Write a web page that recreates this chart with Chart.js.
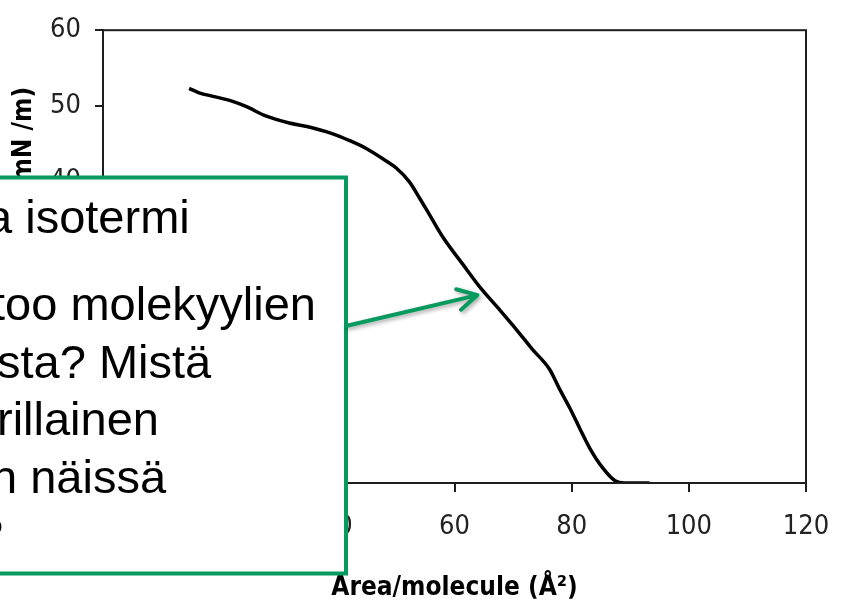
<!DOCTYPE html>
<html>
<head>
<meta charset="utf-8">
<script src="https://cdn.jsdelivr.net/npm/chart.js@4/dist/chart.umd.min.js"></script>
<style>
  html, body { margin: 0; padding: 0; background: #fff; }
  #wrap { width: 851px; height: 604px; }
</style>
</head>
<body>
<div id="wrap"><canvas id="c" width="851" height="604"></canvas></div>
<script>
// Surface pressure – area isotherm
const moleculeArea = [14.7, 16.4, 19, 22, 24.4, 27.9, 31.8, 35, 39.1, 42, 45, 47.7, 50.1, 52.3, 54, 55.7, 58, 61.4, 64.3, 67.2, 70.6, 73.3, 76.2, 77.9, 79.7, 81.4, 83.1, 85.3, 87.4, 89, 93.3];
const surfacePressure = [52.3, 51.7, 51.2, 50.6, 49.9, 48.6, 47.7, 47.2, 46.3, 45.4, 44.3, 43.0, 41.7, 39.9, 37.8, 35.6, 32.6, 29.0, 26.0, 23.4, 20.3, 17.7, 15.1, 12.5, 9.9, 7.2, 4.6, 2.0, 0.3, 0, 0];

const xTitle = 'Area/molecule (Å²)';
const yTitle = 'Surface pressure (mN /m)';

// Callout text (the box runs off the left edge of the slide)
const calloutLines = ['a isotermi', 'too molekyylien', 'sta? Mistä', 'rillainen', 'n näissä', '?'];
// Point on the isotherm the arrow refers to
const arrowTarget = { x: 63.9, y: 24.9 };

const GREEN = '#079a5f';
const AXIS = '#1e1e1e';
const NARROW = "'Liberation Sans Narrow', 'DejaVu Sans Condensed', 'Arial Narrow', sans-serif";

const points = moleculeArea.map((a, i) => ({ x: a, y: surfacePressure[i] }));

const framePlugin = {
  id: 'frame',
  afterDatasetsDraw(chart) {
    const { ctx, chartArea: a } = chart;
    ctx.save();
    ctx.strokeStyle = AXIS;
    ctx.lineWidth = 2;
    ctx.strokeRect(a.left, a.top, a.right - a.left, a.bottom - a.top);
    ctx.restore();
  }
};

const calloutPlugin = {
  id: 'callout',
  afterDraw(chart) {
    const ctx = chart.ctx;
    ctx.save();
    // box
    ctx.fillStyle = '#ffffff';
    ctx.strokeStyle = GREEN;
    ctx.lineWidth = 4;
    ctx.beginPath();
    ctx.rect(-10, 177.5, 356, 396);
    ctx.fill();
    ctx.stroke();

    // text
    ctx.fillStyle = '#000';
    ctx.font = "47px 'Liberation Sans', Arial, sans-serif";
    ctx.textAlign = 'left';
    ctx.textBaseline = 'alphabetic';
    const lineX = [-14, -8, -3, -3, -9, -23];
    const lineY = [233, 320, 377.5, 435, 492.5, 550];
    calloutLines.forEach((t, i) => ctx.fillText(t, lineX[i], lineY[i]));

    // arrow from the box edge to the curve
    const tx = chart.scales.x.getPixelForValue(arrowTarget.x);
    const ty = chart.scales.y.getPixelForValue(arrowTarget.y);
    const sx = 346, sy = 326;
    const ang = Math.atan2(ty - sy, tx - sx);
    const head = 22, spread = 0.5;
    ctx.shadowColor = 'rgba(0,0,0,0.35)';
    ctx.shadowBlur = 4;
    ctx.shadowOffsetX = 2;
    ctx.shadowOffsetY = 2;
    ctx.strokeStyle = GREEN;
    ctx.lineWidth = 4;
    ctx.lineCap = 'round';
    ctx.lineJoin = 'round';
    ctx.beginPath();
    ctx.moveTo(sx, sy);
    ctx.lineTo(tx, ty);
    ctx.moveTo(tx - head * Math.cos(ang - spread), ty - head * Math.sin(ang - spread));
    ctx.lineTo(tx, ty);
    ctx.lineTo(tx - head * Math.cos(ang + spread), ty - head * Math.sin(ang + spread));
    ctx.stroke();
    ctx.restore();
  }
};

new Chart(document.getElementById('c'), {
  type: 'line',
  data: {
    datasets: [{
      data: points,
      borderColor: '#000',
      borderWidth: 3.5,
      pointRadius: 0,
      cubicInterpolationMode: 'monotone',
      fill: false
    }]
  },
  options: {
    responsive: false,
    animation: false,
    devicePixelRatio: 1,
    layout: { padding: { top: 22, right: 45, bottom: 0, left: 0 } },
    plugins: { legend: { display: false }, tooltip: { enabled: false } },
    scales: {
      x: {
        type: 'linear',
        min: 0, max: 120,
        afterFit(scale) { scale.height = 121; },
        ticks: { stepSize: 20, color: '#222', padding: 19, maxRotation: 0, font: { family: NARROW, size: 27 } },
        grid: { drawOnChartArea: false, drawTicks: true, tickLength: 9, color: AXIS, lineWidth: 2 },
        border: { display: true, color: AXIS, width: 2 },
        title: { display: true, text: xTitle, color: '#000', padding: 0, font: { family: NARROW, size: 26, weight: 'bold' } }
      },
      y: {
        type: 'linear',
        min: 0, max: 60,
        afterFit(scale) { scale.width = 103; },
        ticks: { stepSize: 10, color: '#222', padding: 14, font: { family: NARROW, size: 27 } },
        grid: { drawOnChartArea: false, drawTicks: true, tickLength: 8, color: AXIS, lineWidth: 2 },
        border: { display: true, color: AXIS, width: 2 },
        title: { display: true, text: yTitle, color: '#000', padding: { top: 9, bottom: 0 }, font: { family: NARROW, size: 26, weight: 'bold' } }
      }
    }
  },
  plugins: [framePlugin, calloutPlugin]
});
</script>
</body>
</html>
